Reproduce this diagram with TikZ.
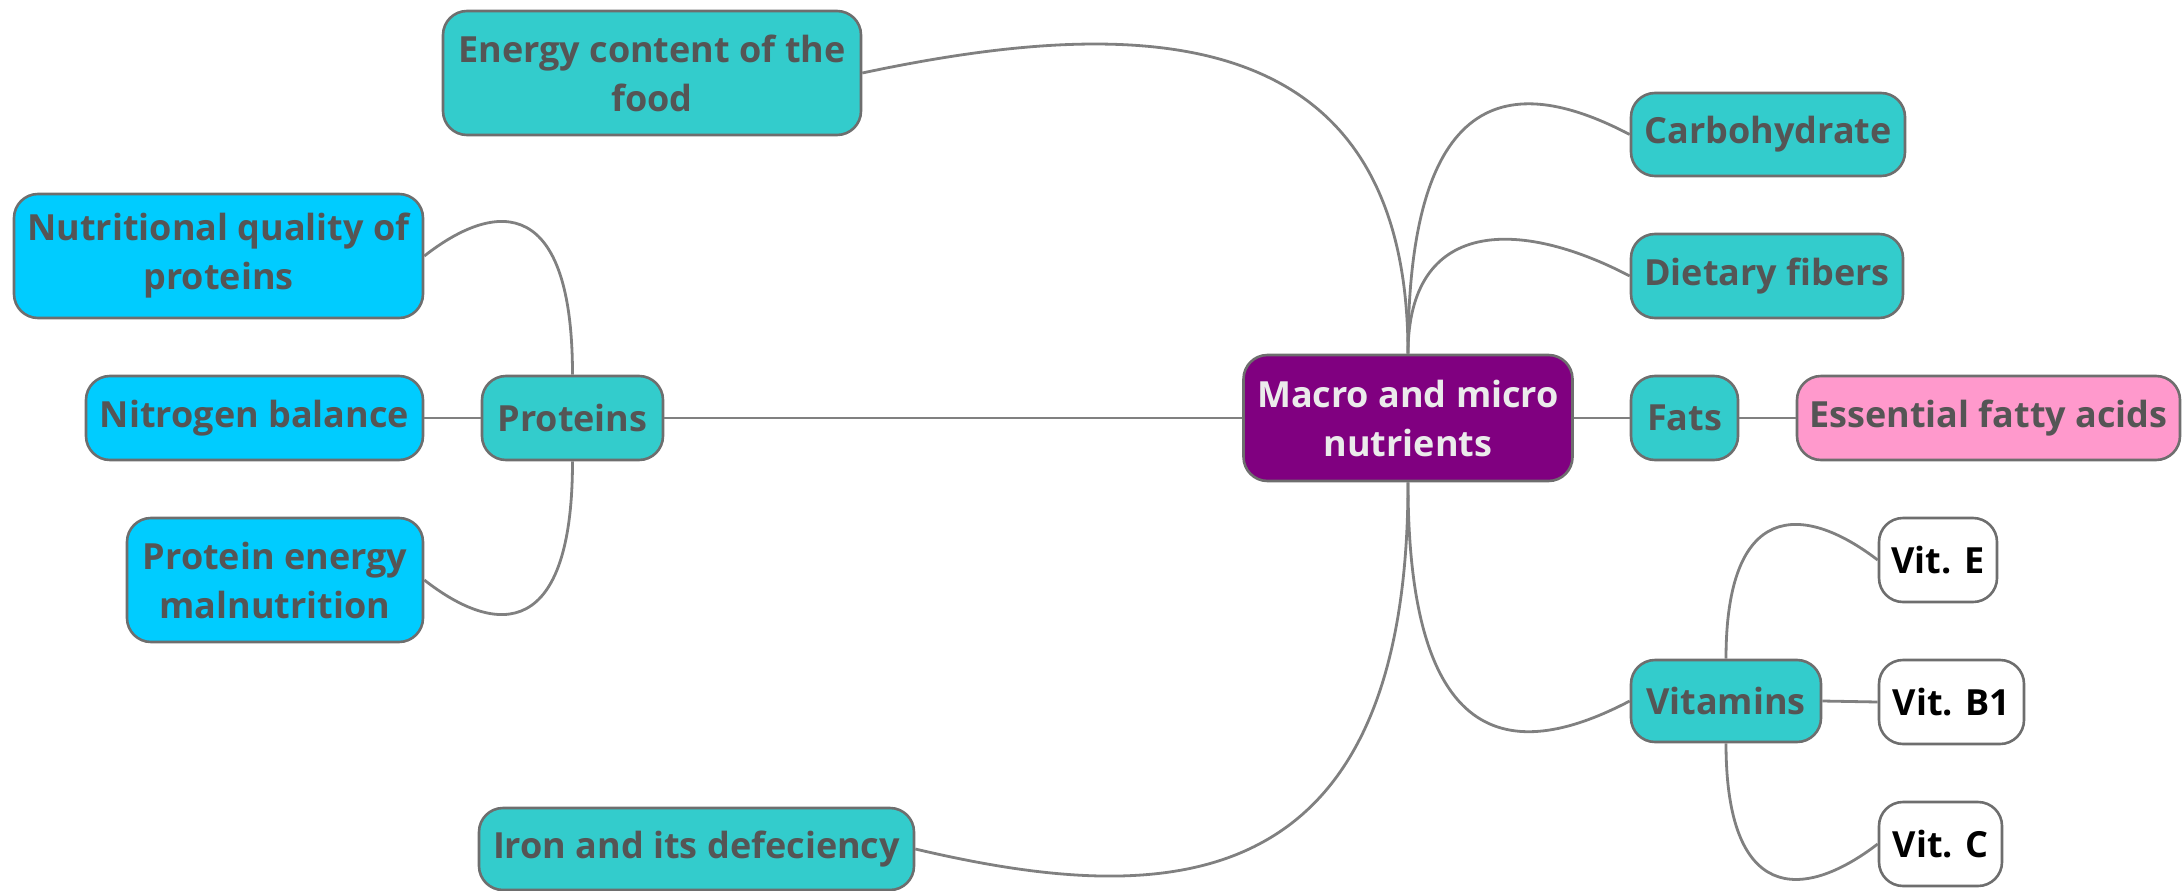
\documentclass[tikz,border=0pt]{standalone}
\usepackage{fontspec}
\setmainfont{Open Sans}
\usetikzlibrary{calc}
\definecolor{tealbox}{HTML}{33CCCC}
\definecolor{bluebox}{HTML}{00CCFF}
\definecolor{purplebox}{HTML}{800080}
\definecolor{pinkbox}{HTML}{FF99CC}
\definecolor{textgray}{HTML}{555555}
\definecolor{bordergray}{HTML}{6E6E6E}
\definecolor{linegray}{HTML}{808080}
\begin{document}
\begin{tikzpicture}[x=1pt,y=-1pt,
  box/.style={draw=bordergray, line width=2.6pt, rounded corners=24pt, align=center,
    font=\fontsize{36}{49}\selectfont\bfseries, text=textgray, inner sep=0pt},
  sz/.style 2 args={minimum width=#1pt, minimum height=#2pt},
  teal/.style={box, fill=tealbox},
  blue/.style={box, fill=bluebox},
  pink/.style={box, fill=pinkbox},
  root/.style={box, fill=purplebox, text=white!92!black},
  leaf/.style={box, fill=white, text=black},
  link/.style={draw=linegray, line width=2.8pt},
  branch/.style={to path={let \p1=(\tikztostart), \p2=(\tikztotarget) in
    .. controls (\x1,{\y2+#1}) and ({(\x1+\x2)/2},{\y2+#1}) .. (\tikztotarget)}}
]
\useasboundingbox (0,0) rectangle (2184,891);
% connectors (drawn first, under the boxes)
\coordinate (rootN) at (1408,355);
\coordinate (rootS) at (1408,481);
% nodes
\node[root, sz={329}{126}] (root) at (1408,418) {Macro and micro\\nutrients};
\node[teal, sz={418}{124}] (energy) at (652,73) {Energy content of the\\food};
\node[teal, sz={274}{83}] (carb) at (1768,134.5) {Carbohydrate};
\node[teal, sz={272}{84}] (fibers) at (1767,276) {Dietary fibers};
\node[teal, sz={107}{84}] (fats) at (1684.5,418) {Fats};
\node[pink, sz={383}{84}] (efa) at (1988.5,418) {Essential fatty acids};
\node[teal, sz={190}{82}] (vit) at (1726,701) {Vitamins};
\node[leaf, sz={118}{84}] (vite) at (1938,560) {Vit. E};
\node[leaf, sz={145}{84}] (vitb) at (1951.5,702) {Vit. B1};
\node[leaf, sz={123}{84}] (vitc) at (1940.5,844) {Vit. C};
\node[teal, sz={435}{82}] (iron) at (696.5,849) {Iron and its defeciency};
\node[teal, sz={181}{84}] (prot) at (572.5,418) {Proteins};
\node[blue, sz={337}{84}] (nitro) at (254.5,418) {Nitrogen balance};
\node[blue, sz={409}{124}] (nutq) at (218.5,256) {Nutritional quality of\\proteins};
\node[blue, sz={296}{124}] (pem) at (275,580) {Protein energy\\malnutrition};
% connectors
\draw[link] (root.north) to[branch=58pt] (energy.east);
\draw[link] (root.north) to[branch=58pt] (carb.west);
\draw[link] (root.north) to[branch=58pt] (fibers.west);
\draw[link] (root.south) to[branch=-58pt] (vit.west);
\draw[link] (root.south) to[branch=-58pt] (iron.east);
\draw[link] (prot.north) to[branch=58pt] (nutq.east);
\draw[link] (prot.south) to[branch=-58pt] (pem.east);
\draw[link] (vit.north) to[branch=58pt] (vite.west);
\draw[link] (vit.south) to[branch=-58pt] (vitc.west);
\draw[link] (root.west) -- (prot.east);
\draw[link] (prot.west) -- (nitro.east);
\draw[link] (root.east) -- (fats.west);
\draw[link] (fats.east) -- (efa.west);
\draw[link] (vit.east) -- (vitb.west);
\end{tikzpicture}
\end{document}
